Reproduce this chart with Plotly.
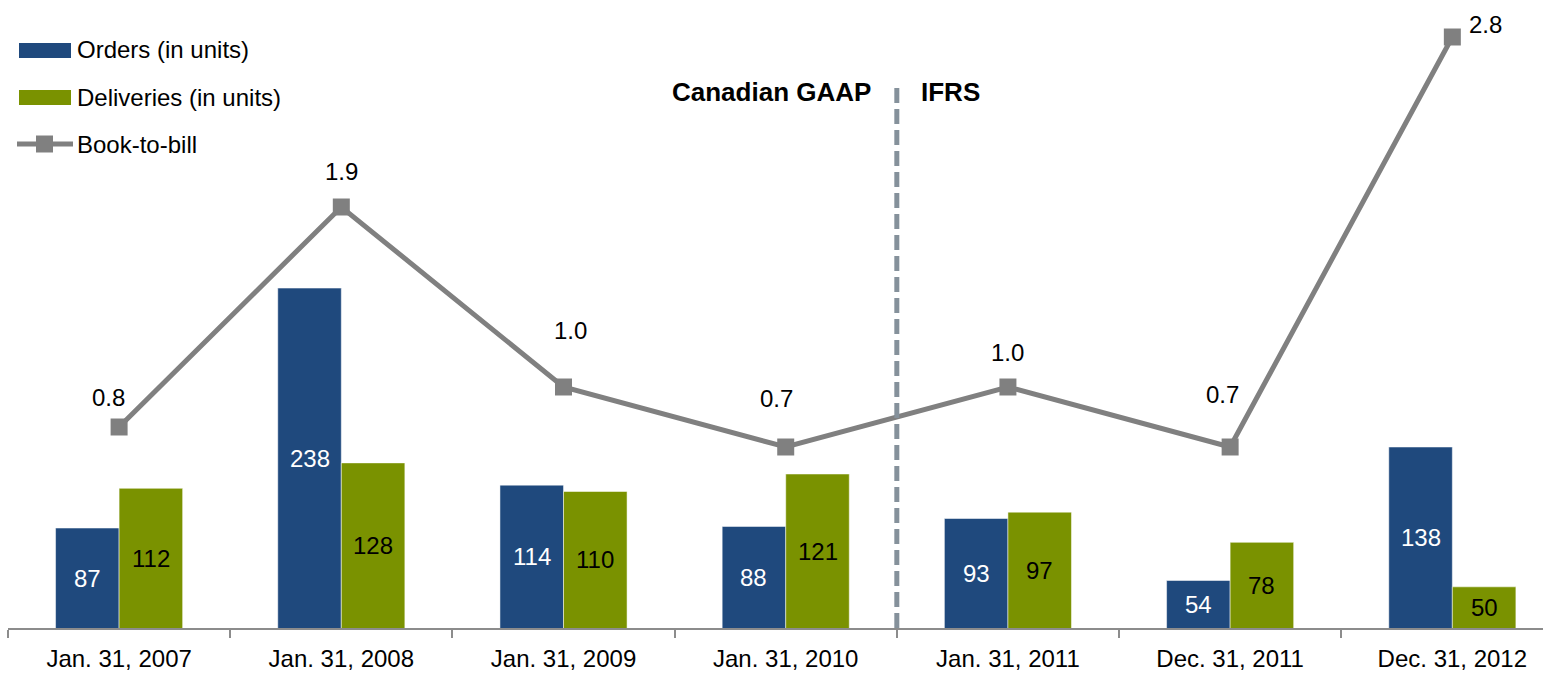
import plotly.graph_objects as go

categories = ["Jan. 31, 2007", "Jan. 31, 2008", "Jan. 31, 2009", "Jan. 31, 2010",
              "Jan. 31, 2011", "Dec. 31, 2011", "Dec. 31, 2012"]
orders = [87, 238, 114, 88, 93, 54, 138]
deliveries = [112, 128, 110, 121, 97, 78, 50]
book_to_bill = [0.8, 1.9, 1.0, 0.7, 1.0, 0.7, 2.75]
series_names = ["Orders (in units)", "Deliveries (in units)", "Book-to-bill"]
regime_labels = ["Canadian GAAP", "IFRS"]

# style / layout
W, H = 1543, 674
ML, MR, MT, MB = 8, 0, 20, 46
PW, PH = W - ML - MR, H - MT - MB
Y_MIN, Y_MAX = 24.1, 406.7
NAVY = "#1F497D"
OLIVE = "#7A9200"
GRAY = "#808080"
AXIS = "#8C8C8C"
FONT = "Liberation Sans, Arial, sans-serif"
FS = 24
BARGAP = 0.428
label_xshift = [-11, 0, 7, -9, 0, -8, 33]
label_yshift = [30, 36, 57, 49, 35, 53, 13]


def px(x):
    return (x - ML) / PW


def py(y):
    return (H - MB - y) / PH


fig = go.Figure()
fig.add_trace(go.Bar(
    x=categories, y=orders, name=series_names[0],
    marker=dict(color=NAVY, line=dict(color="rgba(255,255,255,0.5)", width=1)),
    showlegend=False,
))
fig.add_trace(go.Bar(
    x=categories, y=deliveries, name=series_names[1],
    marker=dict(color=OLIVE, line=dict(color="rgba(255,255,255,0.5)", width=1)),
    showlegend=False,
))
fig.add_trace(go.Scatter(
    x=categories, y=book_to_bill, yaxis="y2", name=series_names[2],
    mode="lines+markers", line=dict(color=GRAY, width=5),
    marker=dict(symbol="square", size=17, color=GRAY),
    showlegend=False,
))

annotations = []
# bar value labels, centred in the visible part of each bar
half = (1 - BARGAP) / 4
for i in range(len(categories)):
    for series, off, col in ((orders, -half, "white"), (deliveries, half, "black")):
        v = series[i]
        annotations.append(dict(
            x=i + off, y=(v + Y_MIN) / 2, xref="x", yref="y", text=str(v), showarrow=False,
            xanchor="center", yanchor="middle",
            font=dict(size=FS, color=col, family=FONT),
        ))

for i, (c, v) in enumerate(zip(categories, book_to_bill)):
    annotations.append(dict(
        x=c, y=v, xref="x", yref="y2", text=f"{v:.1f}", showarrow=False,
        xshift=label_xshift[i], yshift=label_yshift[i],
        font=dict(size=FS, color="black", family=FONT),
    ))

# regime labels
annotations.append(dict(x=3.5, xref="x", y=py(92), yref="paper", text=f"<b>{regime_labels[0]}</b>",
                        xanchor="right", yanchor="middle", xshift=-24, showarrow=False,
                        font=dict(size=26, color="black", family=FONT)))
annotations.append(dict(x=3.5, xref="x", y=py(92), yref="paper", text=f"<b>{regime_labels[1]}</b>",
                        xanchor="left", yanchor="middle", xshift=22, showarrow=False,
                        font=dict(size=26, color="black", family=FONT)))

# legend (manual)
legend_y = [50, 97, 144]
for name, yy in zip(series_names, legend_y):
    annotations.append(dict(x=px(75), xref="paper", y=py(yy), yref="paper", text=name,
                            xanchor="left", yanchor="middle", showarrow=False,
                            font=dict(size=FS, color="black", family=FONT)))

shapes = [
    dict(type="rect", xref="paper", yref="paper", x0=px(19), x1=px(71), y0=py(58), y1=py(43),
         fillcolor=NAVY, line=dict(width=0)),
    dict(type="rect", xref="paper", yref="paper", x0=px(19), x1=px(71), y0=py(105), y1=py(90),
         fillcolor=OLIVE, line=dict(width=0)),
    dict(type="line", xref="paper", yref="paper", x0=px(17), x1=px(73), y0=py(144), y1=py(144),
         line=dict(color=GRAY, width=5)),
    dict(type="rect", xref="paper", yref="paper", x0=px(36), x1=px(53), y0=py(152.5), y1=py(135.5),
         fillcolor=GRAY, line=dict(width=0)),
    dict(type="line", xref="x", yref="paper", x0=3.5, x1=3.5, y0=0, y1=py(84),
         line=dict(color="#85919B", width=5, dash="15px,6px"), layer="above"),
]

fig.update_layout(
    width=W, height=H,
    margin=dict(l=ML, r=MR, t=MT, b=MB),
    paper_bgcolor="white", plot_bgcolor="white",
    barmode="group", bargap=BARGAP, bargroupgap=0,
    font=dict(family=FONT, size=FS, color="black"),
    showlegend=False,
    xaxis=dict(type="category", range=[-0.5, 6.408], showline=True, linecolor=AXIS, linewidth=2,
               ticks="outside", tickson="boundaries", ticklen=8, tickwidth=2, tickcolor=AXIS,
               ticklabelstandoff=8,
               showgrid=False, zeroline=False, tickfont=dict(size=FS, family=FONT, color="black")),
    yaxis=dict(range=[Y_MIN, Y_MAX], visible=False, showgrid=False, zeroline=False),
    yaxis2=dict(range=[-0.205, 2.835], overlaying="y", visible=False, showgrid=False, zeroline=False),
    annotations=annotations,
    shapes=shapes,
)

fig.write_html("out.html", config={"displayModeBar": False},
               post_script="document.body.style.margin='0px';")
